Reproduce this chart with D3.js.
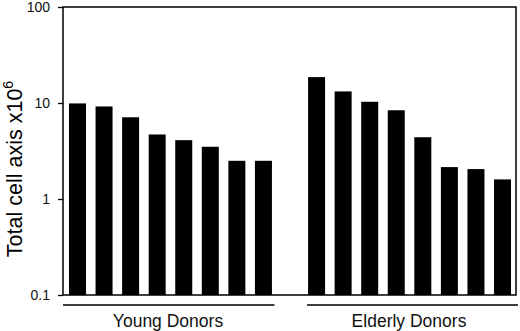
<!DOCTYPE html>
<html>
<head>
<meta charset="utf-8">
<script src="https://cdn.jsdelivr.net/npm/d3@7"></script>
<style>
  html, body { margin: 0; padding: 0; background: #fff; }
  svg { display: block; font-family: "Liberation Sans", Arial, sans-serif; }
</style>
</head>
<body>
<svg id="chart" width="520" height="331"></svg>
<script>
// ---- data ----
const youngDonors = ["Y1","Y2","Y3","Y4","Y5","Y6","Y7","Y8"];
const youngValues = [9.9, 9.2, 7.1, 4.7, 4.1, 3.5, 2.5, 2.5];
const elderlyDonors = ["E1","E2","E3","E4","E5","E6","E7","E8"];
const elderlyValues = [18.6, 13.2, 10.3, 8.4, 4.4, 2.15, 2.05, 1.6];
const groupLabels = ["Young Donors", "Elderly Donors"];
const yTicks = [0.1, 1, 10, 100];
const yTitle = "Total cell axis x10";
const yTitleSup = "6";

(function () {
// ---- layout ----
const svg = d3.select("#chart");
const W = 520, H = 331;
const mLeft = 63, mRight = 516, mTop = 7, mBottom = 295;

const slots = [...youngDonors, "gap", ...elderlyDonors];
const x = d3.scaleBand().domain(slots).range([65, 515]).paddingInner(0.36).paddingOuter(0.15);
const y = d3.scaleLog().domain([0.1, 100]).range([mBottom, mTop]);

const bars = [
  ...youngDonors.map((k, i) => ({ k, v: youngValues[i] })),
  ...elderlyDonors.map((k, i) => ({ k, v: elderlyValues[i] }))
];

svg.append("g").selectAll("rect").data(bars).join("rect")
  .attr("x", d => x(d.k))
  .attr("width", x.bandwidth())
  .attr("y", d => y(d.v))
  .attr("height", d => y(0.1) - y(d.v))
  .attr("fill", "#000");

// frame
svg.append("rect")
  .attr("x", mLeft).attr("y", mTop)
  .attr("width", mRight - mLeft).attr("height", mBottom - mTop)
  .attr("fill", "none").attr("stroke", "#000").attr("stroke-width", 1.5);

// y axis
const yAxis = d3.axisLeft(y).tickValues(yTicks).tickFormat(d => String(d))
  .tickSize(5).tickSizeOuter(0).tickPadding(8);
const gy = svg.append("g").attr("transform", `translate(${mLeft},0)`).call(yAxis);
gy.select(".domain").remove();
gy.selectAll(".tick line").attr("stroke", "#000").attr("stroke-width", 1.3);
gy.selectAll(".tick text").attr("font-size", 14).attr("fill", "#111")
  .attr("font-family", "'Liberation Sans', Arial, sans-serif");

// y title
const t = svg.append("text")
  .attr("transform", `translate(21.5,${(mTop + mBottom) / 2 + 18}) rotate(-90)`)
  .attr("text-anchor", "middle")
  .attr("font-size", 21.5)
  .attr("fill", "#000");
t.append("tspan").text(yTitle);
t.append("tspan").text(yTitleSup).attr("font-size", 14).attr("dy", -9);

// group lines and labels
const labelCenters = [168, 409];
const groups = [
  { label: groupLabels[0], x0: mLeft, x1: x(youngDonors[7]) + x.bandwidth() + 2.5, cx: labelCenters[0] },
  { label: groupLabels[1], x0: x(elderlyDonors[0]) - 1, x1: W - 2, cx: labelCenters[1] }
];
const gg = svg.append("g");
gg.selectAll("line").data(groups).join("line")
  .attr("x1", d => d.x0).attr("x2", d => d.x1)
  .attr("y1", 305).attr("y2", 305)
  .attr("stroke", "#000").attr("stroke-width", 1.4);
gg.selectAll("text").data(groups).join("text")
  .attr("x", d => d.cx)
  .attr("y", 326.5)
  .attr("text-anchor", "middle")
  .attr("font-size", 17.5)
  .attr("fill", "#111")
  .text(d => d.label);
})();
</script>
</body>
</html>
